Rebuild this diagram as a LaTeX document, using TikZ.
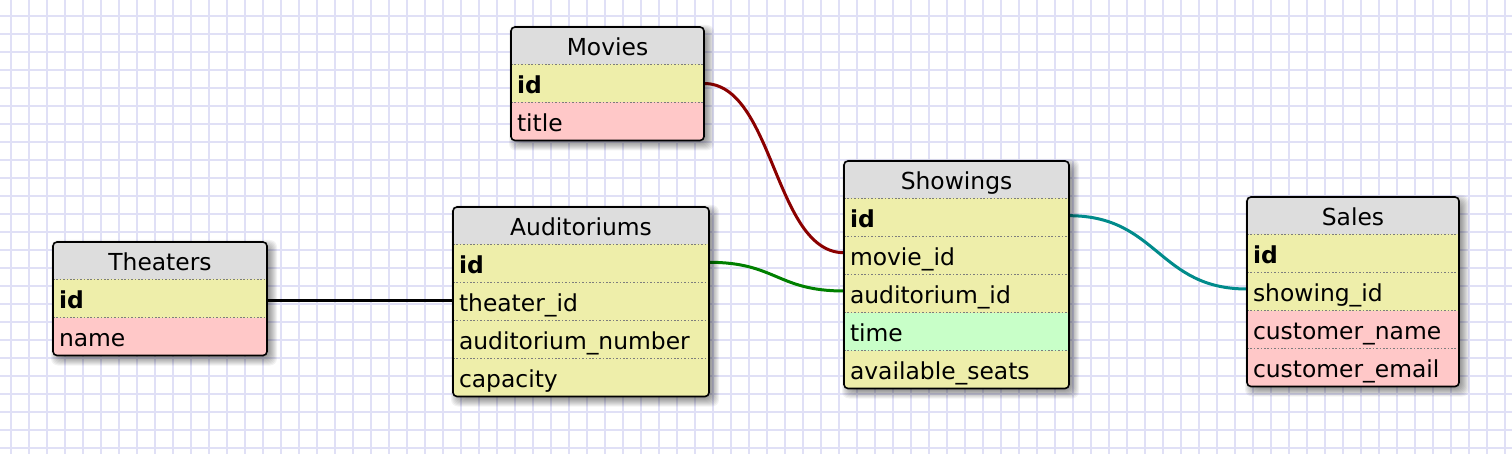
\documentclass[tikz,border=0pt]{standalone}
\usepackage{fontspec}
\setmainfont{DejaVu Sans}
\usetikzlibrary{calc}
\definecolor{hdrgray}{HTML}{DDDDDD}
\definecolor{keyyel}{HTML}{EEEEAA}
\definecolor{colpink}{HTML}{FFC8C8}
\definecolor{colgreen}{HTML}{C8FFC8}
\definecolor{gridlav}{RGB}{224,224,246}
\definecolor{sepgray}{RGB}{125,125,125}
\definecolor{fkred}{RGB}{139,0,0}
\definecolor{fkgreen}{RGB}{0,128,0}
\definecolor{fkteal}{RGB}{0,139,139}
\pgfdeclarelayer{gridlayer}
\pgfdeclarelayer{connlayer}
\pgfsetlayers{gridlayer,connlayer,main}
\newcommand\erfont{\fontsize{23.4pt}{28pt}\selectfont}
\newcommand\ercell[5]{\node[rowcell, text width=#3, fill=#4] (#1) at (#2.south west) {#5};}
\newcommand\ersep[1]{\draw[sepline] (#1.north west) -- (#1.north east);}
\newcommand\ershadow[1]{\foreach \d in {-4,-3,...,6} \fill[black, opacity=0.05, rounded corners=7pt] ($(#1.north west)+(4-\d,4-\d)$) rectangle ($(#1.south east)+(4+\d,4+\d)$);}
\begin{document}
\begin{tikzpicture}[x=1pt,y=-1pt,
  tablebox/.style={inner sep=0pt, outer sep=0pt, anchor=north west},
  hdrcell/.style={inner xsep=0pt, inner ysep=0pt, outer sep=0pt, minimum height=37.5pt, text height=22pt, text depth=2pt, align=center, font=\erfont, fill=hdrgray, anchor=north west},
  rowcell/.style={inner xsep=6pt, inner ysep=0pt, outer sep=0pt, minimum height=38pt, text height=22pt, text depth=2pt, align=left, font=\erfont, anchor=north west},
  border/.style={draw=black, line width=1.6pt, rounded corners=4pt},
  sepline/.style={draw=sepgray, line width=1.6pt, dash pattern=on 1.6pt off 1.8pt},
  gridline/.style={draw=gridlav, line width=2pt},
  fk/.style={line width=3pt},
]
\useasboundingbox (0,0) rectangle (1512,454);
\begin{pgfonlayer}{gridlayer}
  \fill[white] (0,0) rectangle (1512,454);
  \foreach \i in {0,...,83} \draw[gridline] ({10.7+18*\i},0) -- ({10.7+18*\i},454);
  \foreach \j in {0,...,24} \draw[gridline] (0,{16+18*\j}) -- (1512,{16+18*\j});
\end{pgfonlayer}

% Theaters
\node[tablebox, minimum width=214pt, minimum height=113.5pt] (theaters) at (53,242) {};
\ershadow{theaters}
\begin{scope}
  \clip[rounded corners=4pt] (theaters.north west) rectangle (theaters.south east);
  \node[hdrcell, text width=214pt] (theaters-h) at (theaters.north west) {Theaters};
  \ercell{theaters-id}{theaters-h}{202pt}{keyyel}{\textbf{id}}
  \ercell{theaters-name}{theaters-id}{202pt}{colpink}{name}
\end{scope}
\ersep{theaters-id}\ersep{theaters-name}
\draw[border] (theaters.north west) rectangle (theaters.south east);

% Movies
\node[tablebox, minimum width=193pt, minimum height=113.5pt] (movies) at (511,27) {};
\ershadow{movies}
\begin{scope}
  \clip[rounded corners=4pt] (movies.north west) rectangle (movies.south east);
  \node[hdrcell, text width=193pt] (movies-h) at (movies.north west) {Movies};
  \ercell{movies-id}{movies-h}{181pt}{keyyel}{\textbf{id}}
  \ercell{movies-title}{movies-id}{181pt}{colpink}{title}
\end{scope}
\ersep{movies-id}\ersep{movies-title}
\draw[border] (movies.north west) rectangle (movies.south east);

% Auditoriums
\node[tablebox, minimum width=256pt, minimum height=189.5pt] (audit) at (453,207) {};
\ershadow{audit}
\begin{scope}
  \clip[rounded corners=4pt] (audit.north west) rectangle (audit.south east);
  \node[hdrcell, text width=256pt] (audit-h) at (audit.north west) {Auditoriums};
  \ercell{audit-id}{audit-h}{244pt}{keyyel}{\textbf{id}}
  \ercell{audit-theater}{audit-id}{244pt}{keyyel}{theater\_id}
  \ercell{audit-number}{audit-theater}{244pt}{keyyel}{auditorium\_number}
  \ercell{audit-capacity}{audit-number}{244pt}{keyyel}{capacity}
\end{scope}
\ersep{audit-id}\ersep{audit-theater}\ersep{audit-number}\ersep{audit-capacity}
\draw[border] (audit.north west) rectangle (audit.south east);

% Showings
\node[tablebox, minimum width=225pt, minimum height=227.5pt] (show) at (844,161) {};
\ershadow{show}
\begin{scope}
  \clip[rounded corners=4pt] (show.north west) rectangle (show.south east);
  \node[hdrcell, text width=225pt] (show-h) at (show.north west) {Showings};
  \ercell{show-id}{show-h}{213pt}{keyyel}{\textbf{id}}
  \ercell{show-movie}{show-id}{213pt}{keyyel}{movie\_id}
  \ercell{show-audit}{show-movie}{213pt}{keyyel}{auditorium\_id}
  \ercell{show-time}{show-audit}{213pt}{colgreen}{time}
  \ercell{show-seats}{show-time}{213pt}{keyyel}{available\_seats}
\end{scope}
\ersep{show-id}\ersep{show-movie}\ersep{show-audit}\ersep{show-time}\ersep{show-seats}
\draw[border] (show.north west) rectangle (show.south east);

% Sales
\node[tablebox, minimum width=212pt, minimum height=189.5pt] (sales) at (1247,197) {};
\ershadow{sales}
\begin{scope}
  \clip[rounded corners=4pt] (sales.north west) rectangle (sales.south east);
  \node[hdrcell, text width=212pt] (sales-h) at (sales.north west) {Sales};
  \ercell{sales-id}{sales-h}{200pt}{keyyel}{\textbf{id}}
  \ercell{sales-showing}{sales-id}{200pt}{keyyel}{showing\_id}
  \ercell{sales-cname}{sales-showing}{200pt}{colpink}{customer\_name}
  \ercell{sales-cemail}{sales-cname}{200pt}{colpink}{customer\_email}
\end{scope}
\ersep{sales-id}\ersep{sales-showing}\ersep{sales-cname}\ersep{sales-cemail}
\draw[border] (sales.north west) rectangle (sales.south east);

% Connectors
\begin{pgfonlayer}{connlayer}
  \draw[fk, black] ([yshift=-1.8pt]theaters-id.east) .. controls +(93,0) and +(-93,0) .. ([yshift=1.2pt]audit-theater.west);
  \draw[fk, fkred] (movies-id.east) .. controls +(70,0) and +(-70,0) .. ([yshift=2.8pt]show-movie.west);
  \draw[fk, fkgreen] ([yshift=1.2pt]audit-id.east) .. controls +(67,0) and +(-67,0) .. ([yshift=2.5pt]show-audit.west);
  \draw[fk, fkteal] ([yshift=1.8pt]show-id.east) .. controls +(89,0) and +(-89,0) .. ([yshift=2.5pt]sales-showing.west);
\end{pgfonlayer}
\end{tikzpicture}
\end{document}
